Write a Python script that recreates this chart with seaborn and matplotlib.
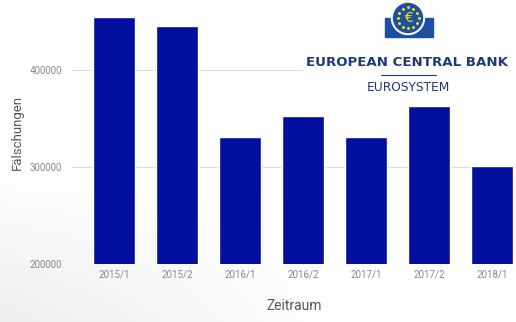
import matplotlib
matplotlib.use("Agg")
import matplotlib.pyplot as plt
import matplotlib.patches as mpatches
import seaborn as sns
import pandas as pd
import numpy as np

periods = ["2015/1", "2015/2", "2016/1", "2016/2", "2017/1", "2017/2", "2018/1"]
counterfeits = [454000, 445000, 331000, 353000, 331000, 363000, 301000]
y_ticks = [200000, 300000, 400000]

sns.set_theme(style="white")
plt.rcParams['font.family'] = ['Roboto', 'DejaVu Sans']

df = pd.DataFrame({"Zeitraum": periods, "Fälschungen": counterfeits})

fig = plt.figure(figsize=(5.16, 3.22), dpi=100)
fig.patch.set_facecolor("white")

# subtle background shading
bg = fig.add_axes([0, 0, 1, 1], zorder=-10)
yy, xx = np.mgrid[0:1:200j, 0:1:300j]
shade = np.clip(1 - 0.07 * np.clip((0.5 - yy) / 0.5, 0, 1) * np.clip((0.7 - xx) / 0.7, 0, 1), 0, 1)
bg.imshow(shade, cmap="gray", vmin=0, vmax=1, extent=[0, 1, 0, 1], aspect="auto", origin="lower")
bg.axis("off")

ax = fig.add_axes([72/516, 1-264/322, 1-72/516, 264/322])
ax.set_facecolor("none")

sns.barplot(data=df, x="Zeitraum", y="Fälschungen", color="#030f9e",
            width=0.67, ax=ax, saturation=1)
ax.set_ylim(200000, 472000)
ax.set_xlim(-0.67, 6.38)
ax.set_yticks(y_ticks)
ax.set_yticklabels([str(v) for v in y_ticks])
ax.yaxis.grid(True, color="#dddddd", linewidth=0.8)
ax.set_axisbelow(True)
for s in ax.spines.values():
    s.set_visible(False)
ax.tick_params(axis="both", length=0, labelsize=7, labelcolor="#888888")
ax.tick_params(axis="y", pad=7)
ax.tick_params(axis="x", pad=4)
ax.set_ylabel("Fälschungen", fontsize=9.5, color="#555555", labelpad=4)
ax.set_xlabel("Zeitraum", fontsize=10, color="#555555", labelpad=14)

# ECB logo area
lax = fig.add_axes([303/516, 1-95/322, 213/516, 95/322])
lax.set_xlim(303, 516)
lax.set_ylim(95, 0)
lax.axis("off")
lax.add_patch(mpatches.Rectangle((303, 0), 213, 95, color="white", zorder=0))
lax.add_patch(mpatches.Rectangle((385, 18), 48, 19, color="#1f4fa3", zorder=1))
lax.add_patch(mpatches.Circle((408, 18), 16.5, color="white", zorder=2))
lax.add_patch(mpatches.Circle((408, 18), 14.5, color="#1f4fa3", zorder=3))
ang = np.linspace(0, 2*np.pi, 13)[:-1]
lax.scatter(408 + 10.5*np.cos(ang), 18 + 10.5*np.sin(ang), s=1.5, color="#f2e000", zorder=4, marker="*")
lax.text(408, 18, "€", color="#f2e000", fontsize=10, ha="center", va="center", zorder=5, family="DejaVu Sans")
lax.text(407, 62, "EUROPEAN CENTRAL BANK", color="#1d3a7a", fontsize=9.6, fontweight="bold",
         ha="center", va="center", family="DejaVu Sans")
lax.plot([381, 436], [75, 75], color="#1d3a7a", lw=0.8)
lax.text(408, 88, "EUROSYSTEM", color="#1d3a7a", fontsize=8.8, ha="center", va="center",
         family="DejaVu Sans")

fig.savefig("out.png", dpi=100)
